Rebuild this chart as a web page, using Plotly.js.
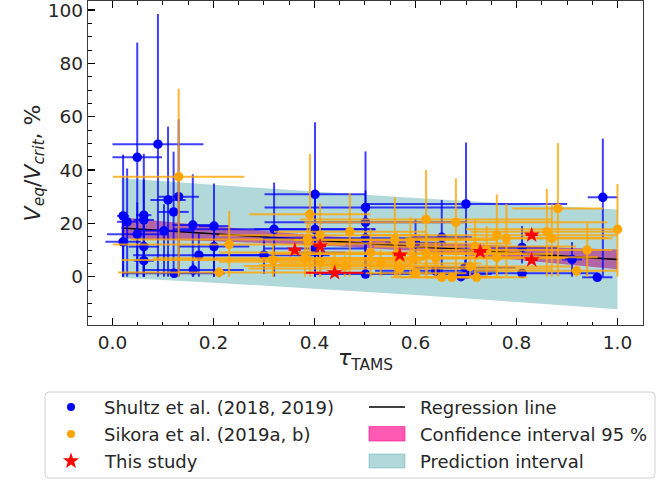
<!DOCTYPE html>
<html><head><meta charset="utf-8">
<script src="https://cdn.plot.ly/plotly-3.0.1.min.js"></script>
<style>html,body{margin:0;padding:0;background:#fff;}#chart{width:670px;height:481px;}</style>
</head><body><div id="chart"></div>
<script>
// ---- Shultz et al. (2018, 2019) (blue) ----
const shultzX = [0.021,0.029,0.021,0.049,0.049,0.062,0.062,0.062,0.062,0.09,0.102,0.11,0.121,0.131,0.122,0.159,0.16,0.171,0.201,0.201,0.3,0.32,0.401,0.401,0.401,0.411,0.501,0.501,0.501,0.501,0.6,0.652,0.64,0.7,0.69,0.701,0.698,0.811,0.811,0.91,0.96,0.971];
const shultzY = [22.8,20.6,13.1,44.8,15.9,23.1,21.3,11.3,6.0,49.7,17.2,28.8,24.3,30.0,1.3,19.4,2.5,8.1,19.0,11.3,8.1,17.8,30.9,17.8,10.6,9.0,26.0,20.4,14.4,1.0,12.7,14.8,2.2,27.3,0.0,1.0,3.4,11.0,1.3,6.5,-0.2,29.8];
const shultzXErrPlus = [0.012,0.02,0.035,0.049,0.06,0.015,0.02,0.03,0.02,0.09,0.06,0.035,0.03,0.04,0.1,0.04,0.1,0.13,0.03,0.07,0.13,0.2,0.1,0.12,0.1,0.05,0.2,0.2,0.2,0.1,0.06,0.06,0.12,0.2,0.05,0.05,0.1,0.07,0.15,0.02,0.03,0.03];
const shultzXErrMinus = [0.012,0.02,0.035,0.049,0.06,0.015,0.02,0.03,0.02,0.09,0.06,0.035,0.03,0.04,0.1,0.04,0.1,0.13,0.03,0.07,0.13,0.2,0.1,0.12,0.1,0.05,0.2,0.2,0.2,0.1,0.06,0.06,0.12,0.2,0.05,0.05,0.1,0.07,0.28,0.02,0.03,0.03];
const shultzYErrPlus = [23,20,10,43,12,23,15,8,5,48.8,10,27.5,22.6,29,1.5,19,2.5,8,16,8,7.5,17.5,27,12,8,6,21,12,10,1.5,9,14,2.2,23,1,1,3,8,1.3,6.5,0.5,22];
const shultzYErrMinus = [22.8,20.6,13.1,44.8,15.9,23.1,21.3,11.3,6,49.7,17.2,28.8,24.3,30,1.3,19.4,2.5,8.1,19,11.3,7,17.8,30.9,17.8,10.6,8,26,20.4,14.4,1,8,14.8,2.2,27.3,0,1,3.4,6,1.3,6.5,0.5,29.8];

// ---- Sikora et al. (2019a, b) (orange) ----
const sikoraX = [0.131,0.231,0.211,0.318,0.381,0.391,0.411,0.411,0.44,0.46,0.47,0.511,0.531,0.559,0.563,0.596,0.601,0.621,0.622,0.64,0.652,0.672,0.68,0.708,0.718,0.721,0.741,0.761,0.78,0.86,0.87,0.882,0.919,0.94,1.0,0.761,0.569,0.59,0.386];
const sikoraY = [37.5,12.1,1.6,6.3,6.9,23.4,15.6,5.6,4.4,4.0,16.9,9.1,5.0,13.8,8.5,6.9,1.3,21.5,8.5,6.9,-0.2,-0.2,20.4,3.8,11.3,-0.2,10.0,15.6,14.4,16.9,14.4,25.6,2.2,10.0,17.8,7.3,3.1,12.5,14.0];
const sikoraXErrPlus = [0.13,0.23,0.2,0.3,0.3,0.12,0.2,0.2,0.15,0.2,0.15,0.3,0.2,0.2,0.25,0.3,0.1,0.25,0.25,0.15,0.1,0.1,0.3,0.2,0.2,0.1,0.15,0.239,0.2,0.14,0.12,0.09,0.08,0.05,0,0.2,0.3,0.2,0.35];
const sikoraXErrMinus = [0.13,0.23,0.2,0.3,0.3,0.12,0.2,0.2,0.15,0.2,0.15,0.3,0.2,0.2,0.25,0.3,0.1,0.25,0.25,0.15,0.1,0.1,0.3,0.2,0.2,0.1,0.15,0.25,0.2,0.15,0.12,0.09,0.2,0.05,0.3,0.2,0.3,0.2,0.35];
const sikoraYErrPlus = [33,12.5,2,6,6,22.6,12,5,4,4,14.5,9,5,16,8,7,1,18.5,8,7,0.5,0.5,16.5,4,10,0.5,9,15.3,13,16,13,24.5,2,10,17,7,3,10,6];
const sikoraYErrMinus = [37.5,12.1,1.6,6.3,6.9,23.4,15.6,5.6,4.4,4,16.9,9.1,5,13.8,8.5,6.9,1.3,21.5,8.5,6.9,0.5,0.5,20.4,3.8,11.3,0.5,10,15.6,14.4,16.9,14.4,25.6,2.2,10,17.8,7.3,3.1,12.5,6];

// ---- This study (red stars) ----
const studyX = [0.361,0.411,0.44,0.569,0.728,0.83,0.83];
const studyY = [10.0,11.5,1.5,8.1,9.4,15.6,6.3];
const studyXErr = [0.012,0.012,0.057,0.012,0.012,0.012,0.012];
const studyYErr = [1,1,0.8,1,1,1,1];

// ---- Regression line and intervals ----
const regX = [0.018, 1.0];
const regY = [18.3, 6.5];
const bandX = [0.018, 0.2, 0.4, 0.6, 0.8, 1.0];
const ciUpper = [22.3, 18.93, 15.52, 13.02, 11.41, 10.2];
const ciLower = [14.3, 13.33, 11.92, 9.62, 6.41, 2.8];
const piUpper = [36.95, 34.48, 31.92, 29.52, 27.31, 25.2];
const piLower = [-0.35, -2.22, -4.48, -6.88, -9.49, -12.2];

// ---- Legend labels ----
const legendLeft = ['Shultz et al. (2018, 2019)', 'Sikora et al. (2019a, b)', 'This study'];
const legendRight = ['Regression line', 'Confidence interval 95 %', 'Prediction interval'];

const FONT = 'DejaVu Sans';
const PINK = 'rgba(255,20,147,0.7)';
const TEAL = 'rgba(0,128,128,0.3)';

const rev = a => a.slice().reverse();

const traces = [
  { x: bandX.concat(rev(bandX)), y: ciUpper.concat(rev(ciLower)), type: 'scatter', mode: 'none',
    fill: 'toself', fillcolor: PINK, hoverinfo: 'skip', showlegend: false },
  { x: bandX.concat(rev(bandX)), y: piUpper.concat(rev(piLower)), type: 'scatter', mode: 'none',
    fill: 'toself', fillcolor: TEAL, hoverinfo: 'skip', showlegend: false },
  { x: regX, y: regY, type: 'scatter', mode: 'lines', line: {color: '#000', width: 1.5}, showlegend: false },
  { x: shultzX, y: shultzY, type: 'scatter', mode: 'markers', showlegend: false,
    marker: {color: '#0000ff', size: 9.5},
    error_x: {type: 'data', symmetric: false, array: shultzXErrPlus, arrayminus: shultzXErrMinus, color: 'rgba(0,0,255,0.75)', thickness: 2, width: 0},
    error_y: {type: 'data', symmetric: false, array: shultzYErrPlus, arrayminus: shultzYErrMinus, color: 'rgba(0,0,255,0.75)', thickness: 2, width: 0} },
  { x: sikoraX, y: sikoraY, type: 'scatter', mode: 'markers', showlegend: false,
    marker: {color: '#ffa500', size: 9.5},
    error_x: {type: 'data', symmetric: false, array: sikoraXErrPlus, arrayminus: sikoraXErrMinus, color: 'rgba(255,165,0,0.8)', thickness: 2, width: 0},
    error_y: {type: 'data', symmetric: false, array: sikoraYErrPlus, arrayminus: sikoraYErrMinus, color: 'rgba(255,165,0,0.8)', thickness: 2, width: 0} },
  { x: studyX, y: studyY, type: 'scatter', mode: 'markers', showlegend: false,
    marker: {color: '#ff0000', size: 12, symbol: 'star'},
    error_x: {type: 'data', array: studyXErr, color: '#ff0000', thickness: 2, width: 0},
    error_y: {type: 'data', array: studyYErr, color: '#ff0000', thickness: 2, width: 0} }
];

// plot area in px: x 88..643, y 1..325
const PL = 88, PR = 643, PT = 1, PB = 325;
const px = v => (v - PL) / (PR - PL);
const py = v => (PB - v) / (PB - PT);

const shapes = [];
const annotations = [];
// legend frame (rounded)
(function(){
  const x0 = 45, x1 = 655, y0 = 392, y1 = 478, r = 4;
  const P = (a,b) => px(a) + ',' + py(b);
  const path = 'M' + P(x0+r,y0) + ' L' + P(x1-r,y0) + ' Q' + P(x1,y0) + ' ' + P(x1,y0+r) +
    ' L' + P(x1,y1-r) + ' Q' + P(x1,y1) + ' ' + P(x1-r,y1) + ' L' + P(x0+r,y1) +
    ' Q' + P(x0,y1) + ' ' + P(x0,y1-r) + ' L' + P(x0,y0+r) + ' Q' + P(x0,y0) + ' ' + P(x0+r,y0) + ' Z';
  shapes.push({type:'path', xref:'paper', yref:'paper', path: path, line:{color:'#d0d0d0', width:1}, fillcolor:'rgba(255,255,255,0.85)', layer:'above'});
})();
const rows = [407, 434, 461];
// markers
shapes.push({type:'circle', xref:'paper', yref:'paper', x0:px(67), x1:px(75), y0:py(rows[0]-4), y1:py(rows[0]+4), fillcolor:'#0000ff', line:{width:0}});
shapes.push({type:'circle', xref:'paper', yref:'paper', x0:px(67), x1:px(75), y0:py(rows[1]-4), y1:py(rows[1]+4), fillcolor:'#ffa500', line:{width:0}});
(function(){
  const cx = 71, cy = rows[2], R = 8.5, r = 3.4;
  let d = '';
  for (let i = 0; i < 10; i++) {
    const a = -Math.PI/2 + i * Math.PI / 5;
    const rr = (i % 2 === 0) ? R : r;
    d += (i === 0 ? 'M' : ' L') + px(cx + rr*Math.cos(a)) + ',' + py(cy + rr*Math.sin(a));
  }
  shapes.push({type:'path', xref:'paper', yref:'paper', path: d + ' Z', fillcolor:'#ff0000', line:{width:0}});
})();
shapes.push({type:'line', xref:'paper', yref:'paper', x0:px(369), x1:px(405), y0:py(rows[0]), y1:py(rows[0]), line:{color:'#000', width:1.5}});
shapes.push({type:'rect', xref:'paper', yref:'paper', x0:px(369), x1:px(405), y0:py(426.5), y1:py(441), fillcolor:PINK, line:{color:'rgba(255,20,147,0.8)', width:0.8}});
shapes.push({type:'rect', xref:'paper', yref:'paper', x0:px(369), x1:px(405), y0:py(454), y1:py(468), fillcolor:TEAL, line:{color:'rgba(0,128,128,0.35)', width:0.8}});

legendLeft.forEach((t, i) => annotations.push({xref:'paper', yref:'paper', x:px(102), y:py(rows[i]), xanchor:'left', yanchor:'middle', text:t, showarrow:false, font:{family:FONT, size:18, color:'#262626'}}));
legendRight.forEach((t, i) => annotations.push({xref:'paper', yref:'paper', x:px(418), y:py(rows[i]), xanchor:'left', yanchor:'middle', text:t, showarrow:false, font:{family:FONT, size:18, color:'#262626'}}));

// x-axis title, placed as an annotation just under the tick labels
annotations.push({xref:'paper', yref:'paper', x:0.5, y:py(359), xanchor:'center', yanchor:'middle', text:'<i>τ</i><sub>TAMS</sub>', showarrow:false, font:{family:FONT, size:22, color:'#262626'}});

const axisCommon = {
  ticks: 'inside', ticklen: 7, tickwidth: 1.3, tickcolor: '#000',
  showline: true, linecolor: '#3a3a3a', linewidth: 1.3,
  showgrid: false, zeroline: false, automargin: false, fixedrange: true,
  ticklabeloverflow: 'allow',
  tickfont: {family: FONT, size: 18.5, color: '#262626'}
};

const layout = {
  width: 670, height: 481,
  margin: {l: PL, r: 670 - PR, t: PT, b: 481 - PB},
  paper_bgcolor: '#fff', plot_bgcolor: '#fff',
  showlegend: false,
  font: {family: FONT},
  xaxis: Object.assign({}, axisCommon, {
    range: [-0.0485, 1.0505], tick0: 0, dtick: 0.2, tickformat: '.1f', mirror: 'ticks',
    minor: {ticks: 'inside', ticklen: 3.5, tickwidth: 1, tickcolor: '#000', dtick: 0.05, tick0: 0, showgrid: false}
  }),
  yaxis: Object.assign({}, axisCommon, {
    range: [-18.1, 103.4], tick0: 0, dtick: 20, mirror: true,
    minor: {ticks: 'inside', ticklen: 3.5, tickwidth: 1, tickcolor: '#000', dtick: 5, tick0: 0, showgrid: false},
    title: {text: '<i>V</i><sub><i>eq</i></sub>/<i>V</i><sub><i>crit</i></sub>, %', font: {family: FONT, size: 22, color: '#262626'}, standoff: 1}
  }),
  shapes: shapes,
  annotations: annotations
};

Plotly.newPlot('chart', traces, layout, {staticPlot: true, displayModeBar: false});
</script>
</body></html>
